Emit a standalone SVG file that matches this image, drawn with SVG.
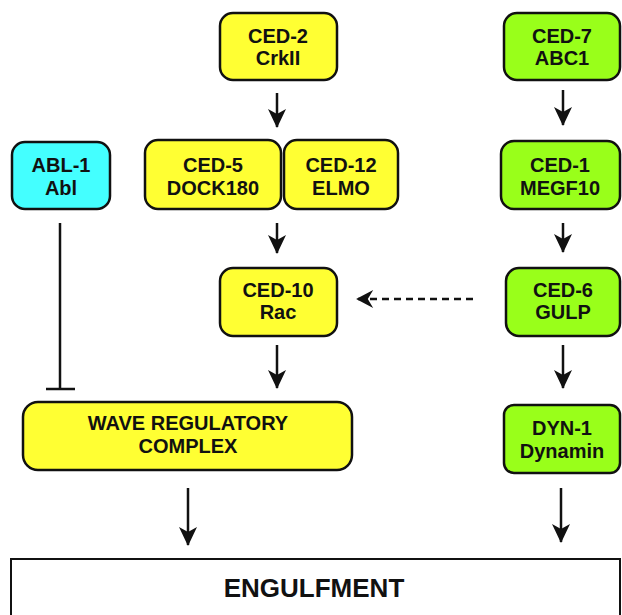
<svg xmlns="http://www.w3.org/2000/svg" width="622" height="615" viewBox="0 0 622 615">
<defs>
<style>
.box{stroke:#111;stroke-width:2.5}
.y{fill:#FFFF33}
.g{fill:#99FF1A}
.c{fill:#44FFFF}
text{font-family:"Liberation Sans",Arial,sans-serif;font-weight:bold;fill:#111;text-anchor:middle}
.t{font-size:20px}
.conn{stroke:#111;stroke-width:2.5;fill:none}
</style>
<marker id="ah" viewBox="0 0 20 20" refX="18" refY="10" markerWidth="20" markerHeight="20" markerUnits="userSpaceOnUse" orient="auto">
<path d="M0,1 L19,10 L0,19 L5,10 Z" fill="#111"/>
</marker>
<marker id="ahd" viewBox="0 0 20 20" refX="18" refY="10" markerWidth="19" markerHeight="18" markerUnits="userSpaceOnUse" orient="auto">
<path d="M0,0 L19,10 L0,20 L6,10 Z" fill="#111"/>
</marker>
</defs>
<rect width="622" height="615" fill="#fff"/>
<g id="connectors">
<line class="conn" x1="277" y1="93" x2="277" y2="127" marker-end="url(#ah)"/>
<line class="conn" x1="563" y1="90" x2="563" y2="125" marker-end="url(#ah)"/>
<line class="conn" x1="277" y1="223" x2="277" y2="253" marker-end="url(#ah)"/>
<line class="conn" x1="563" y1="223" x2="563" y2="252" marker-end="url(#ah)"/>
<line class="conn" x1="473" y1="299" x2="357" y2="299" stroke-width="3.5" stroke-dasharray="7,5" marker-end="url(#ahd)"/>
<line class="conn" x1="277" y1="345" x2="277" y2="388" marker-end="url(#ah)"/>
<line class="conn" x1="563" y1="345" x2="563" y2="388" marker-end="url(#ah)"/>
<line class="conn" x1="60" y1="223" x2="60" y2="389"/>
<line class="conn" x1="46" y1="389" x2="75" y2="389" stroke-width="3"/>
<line class="conn" x1="188" y1="488" x2="188" y2="545" marker-end="url(#ah)"/>
<line class="conn" x1="561" y1="488" x2="561" y2="542" marker-end="url(#ah)"/>
</g>
<g id="ced2"><rect class="box y" x="220" y="13" width="117" height="67" rx="13"/><text class="t" x="278" y="43">CED-2</text><text class="t" x="278" y="65">CrkII</text></g>
<g id="ced7"><rect class="box g" x="504" y="13" width="116" height="67" rx="13"/><text class="t" x="562" y="43">CED-7</text><text class="t" x="562" y="65">ABC1</text></g>
<g id="abl1"><rect class="box c" x="12" y="142" width="98" height="67" rx="13"/><text class="t" x="61" y="172">ABL-1</text><text class="t" x="61" y="195">Abl</text></g>
<g id="ced5"><rect class="box y" x="145" y="140" width="136" height="69" rx="13"/><text class="t" x="213" y="172">CED-5</text><text class="t" x="213" y="195">DOCK180</text></g>
<g id="ced12"><rect class="box y" x="284" y="140" width="114" height="69" rx="13"/><text class="t" x="341" y="172">CED-12</text><text class="t" x="341" y="195">ELMO</text></g>
<g id="ced1"><rect class="box g" x="501" y="141" width="119" height="68" rx="13"/><text class="t" x="560" y="172">CED-1</text><text class="t" x="560" y="195">MEGF10</text></g>
<g id="ced10"><rect class="box y" x="220" y="268" width="117" height="68" rx="13"/><text class="t" x="278" y="297">CED-10</text><text class="t" x="278" y="319">Rac</text></g>
<g id="ced6"><rect class="box g" x="506" y="268" width="114" height="68" rx="13"/><text class="t" x="563" y="297">CED-6</text><text class="t" x="563" y="319">GULP</text></g>
<g id="wrc"><rect class="box y" x="23" y="402" width="329" height="68" rx="15"/><text class="t" x="188" y="430">WAVE REGULATORY</text><text class="t" x="188" y="453">COMPLEX</text></g>
<g id="dyn1"><rect class="box g" x="504" y="405" width="116" height="68" rx="10"/><text class="t" x="562" y="435">DYN-1</text><text class="t" x="562" y="458">Dynamin</text></g>
<g id="engulfment"><rect x="11" y="559" width="609" height="70" fill="#fff" stroke="#111" stroke-width="2"/><text x="314" y="597" font-size="26px">ENGULFMENT</text></g>
</svg>
